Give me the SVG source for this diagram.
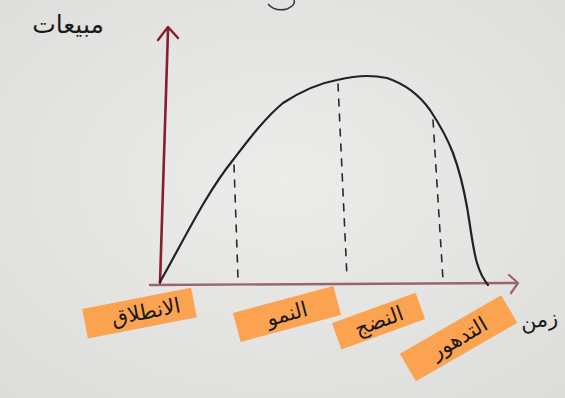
<svg xmlns="http://www.w3.org/2000/svg" width="565" height="398" viewBox="0 0 565 398">
<defs>
<style>
.lbl{font-family:"DejaVu Sans","Noto Sans",sans-serif;font-size:21px;fill:#1a1a1a;text-anchor:middle;dominant-baseline:central}
.hl{fill:#ff9a3c;opacity:0.88}
.dash{fill:none;stroke:#2a2a2a;stroke-width:1.6;stroke-dasharray:7 8;stroke-linecap:round}
</style>
<radialGradient id="paper" cx="50%" cy="45%" r="75%">
<stop offset="0" stop-color="#ececea"/>
<stop offset="1" stop-color="#dcdcda"/>
</radialGradient>
</defs>
<rect width="565" height="398" fill="url(#paper)"/>
<path d="M268,4 Q275,12 287,9 Q296,5 294,0" fill="none" stroke="#333" stroke-width="1.5"/>
<g id="connectors">
<g id="y-axis">
<path d="M160,283 L168,30" fill="none" stroke="#8b1c2e" stroke-width="2.6" stroke-linecap="round"/>
<path d="M158,40 L168,27 L178,38" fill="none" stroke="#8b1c2e" stroke-width="2.4" stroke-linecap="round" stroke-linejoin="round"/>
</g>
<g id="x-axis">
<path d="M150,285 L517,283" fill="none" stroke="#a0606e" stroke-width="2.4" stroke-linecap="round"/>
<path d="M509,275 L518,283 L511,293" fill="none" stroke="#a0606e" stroke-width="2.2" stroke-linecap="round" stroke-linejoin="round"/>
</g>
<path id="curve" d="M160,282 C185,238 205,195 233,160 C250,138 265,118 283,103 C300,92 320,83 337,80 C350,77 360,76 367,76 C375,76 382,77 387,78 C405,84 420,96 430,110 C442,128 448,140 453,153 C460,172 464,190 467,207 C471,230 473,250 477,263 C480,273 484,280 488,285" fill="none" stroke="#222" stroke-width="2.2" stroke-linecap="round"/>
<path class="dash" d="M234,165 L238,278"/>
<path class="dash" d="M338,84 L347,278"/>
<path class="dash" d="M433,120 L443,280"/>
</g>
<g id="y-label">
<text class="lbl" x="68" y="24" style="font-size:25px">مبيعات</text>
</g>
<g id="launch" transform="translate(140,313) rotate(-11)">
<rect class="hl" x="-56" y="-15" width="111" height="30"/>
<text class="lbl" x="6" y="0">الانطلاق</text>
</g>
<g id="growth" transform="translate(287,314) rotate(-15)">
<rect class="hl" x="-52" y="-15" width="104" height="30"/>
<text class="lbl" x="0" y="0">النمو</text>
</g>
<g id="maturity" transform="translate(379,321) rotate(-20)">
<rect class="hl" x="-45" y="-14" width="89" height="28"/>
<text class="lbl" x="0" y="0">النضج</text>
</g>
<g id="decline" transform="translate(459,338) rotate(-30)">
<rect class="hl" x="-59" y="-16" width="117" height="32"/>
<text class="lbl" x="0" y="0">التدهور</text>
</g>
<g id="x-label">
<text class="lbl" x="539" y="320" transform="rotate(-8 539 320)">زمن</text>
</g>
</svg>
